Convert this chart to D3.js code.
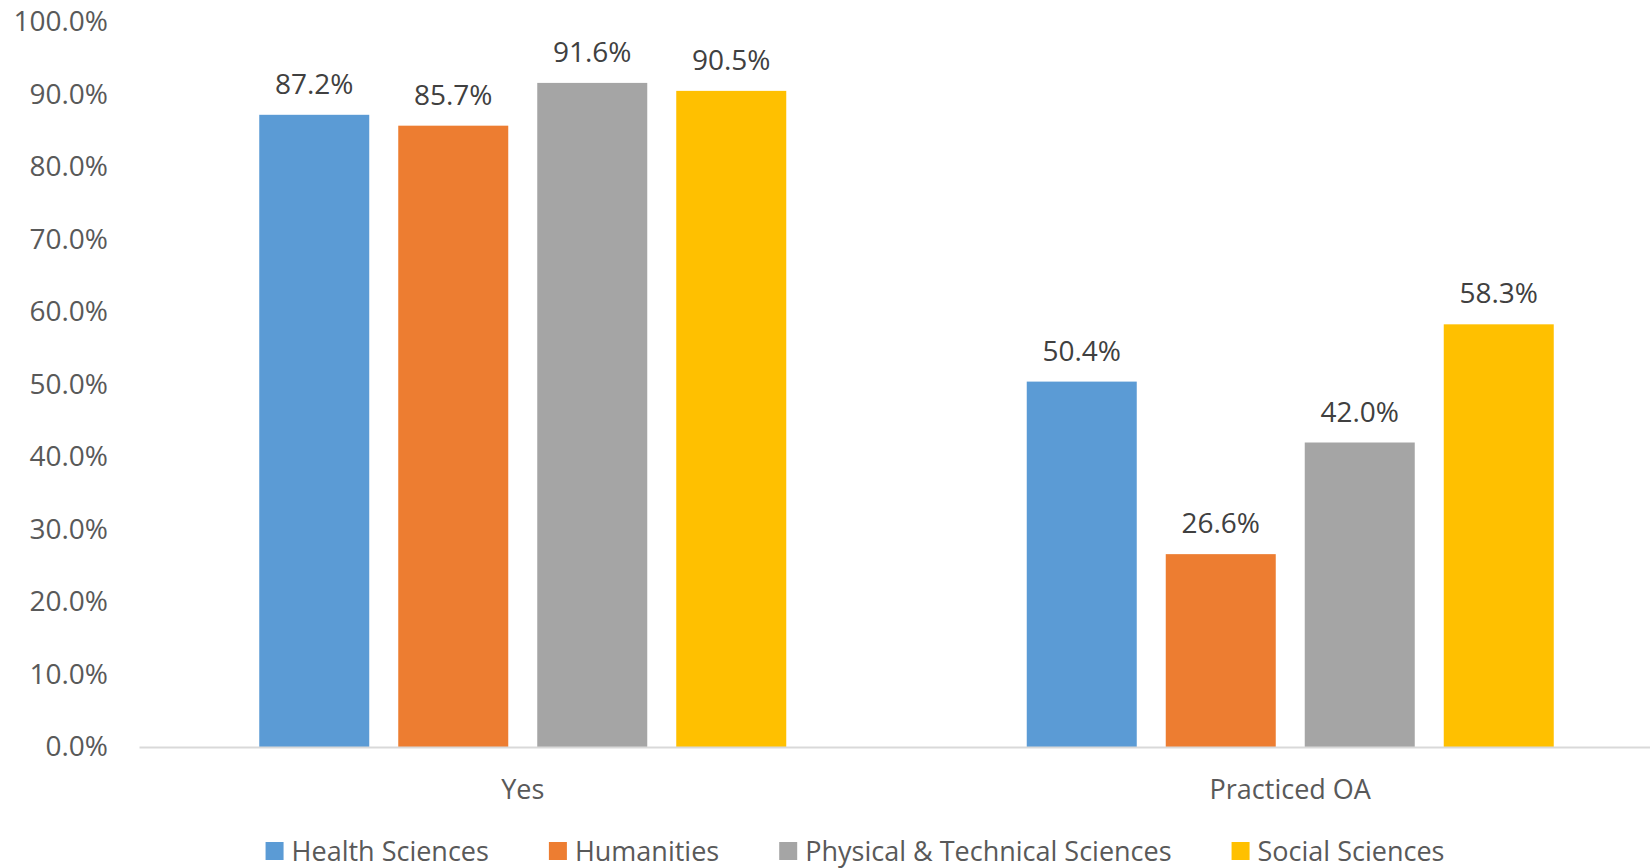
<!DOCTYPE html>
<html>
<head>
<meta charset="utf-8">
<script src="https://cdn.jsdelivr.net/npm/d3@7"></script>
<style>
  html, body { margin: 0; padding: 0; background: #fff; }
  svg { display: block; font-family: "Open Sans", "Noto Sans", sans-serif; }
</style>
</head>
<body>
<svg id="chart" width="1650" height="868"></svg>
<script>
const categories = ["Yes", "Practiced OA"];
const seriesNames = ["Health Sciences", "Humanities", "Physical & Technical Sciences", "Social Sciences"];
const seriesColors = ["#5B9BD5", "#ED7D31", "#A5A5A5", "#FFC000"];
const healthSciences = [0.872, 0.504];
const humanities = [0.857, 0.266];
const physicalTechnical = [0.916, 0.420];
const socialSciences = [0.905, 0.583];
const yTicks = [0, 0.1, 0.2, 0.3, 0.4, 0.5, 0.6, 0.7, 0.8, 0.9, 1.0];

(function () {
const seriesValues = [healthSciences, humanities, physicalTechnical, socialSciences];

const svg = d3.select("#chart");
const plotLeft = 139, plotRight = 1674, plotTop = 22, plotBottom = 747;

const x0 = d3.scaleBand().domain(categories).range([plotLeft, plotRight]).paddingInner(0).paddingOuter(0);
const groupWidth = 527;
const x1 = d3.scaleBand().domain(seriesNames).range([0, groupWidth]).paddingInner(29 / 139).paddingOuter(0);
const y = d3.scaleLinear().domain([0, 1]).range([plotBottom, plotTop]);
const fmt = d3.format(".1%");

// Y axis labels
const yAxis = d3.axisLeft(y).tickValues(yTicks).tickFormat(fmt).tickSize(0).tickPadding(0);
const yg = svg.append("g").attr("transform", `translate(108,0)`).call(yAxis);
yg.select(".domain").remove();
yg.selectAll("text")
  .attr("fill", "#595959")
  .style("font-size", "28px")
  .style("font-family", "'Open Sans', 'Noto Sans', sans-serif");

// Bars
const groups = svg.append("g").selectAll("g")
  .data(categories)
  .join("g")
  .attr("transform", d => `translate(${x0(d) + (x0.bandwidth() - groupWidth) / 2},0)`);

groups.selectAll("rect")
  .data((c, ci) => seriesNames.map((s, si) => ({ s, si, v: seriesValues[si][ci] })))
  .join("rect")
  .attr("x", d => x1(d.s))
  .attr("width", x1.bandwidth())
  .attr("y", d => y(d.v))
  .attr("height", d => y(0) - y(d.v))
  .attr("fill", d => seriesColors[d.si]);

groups.selectAll("text.val")
  .data((c, ci) => seriesNames.map((s, si) => ({ s, si, v: seriesValues[si][ci] })))
  .join("text")
  .attr("class", "val")
  .attr("x", d => x1(d.s) + x1.bandwidth() / 2)
  .attr("y", d => y(d.v) - 21)
  .attr("text-anchor", "middle")
  .attr("fill", "#404040")
  .style("font-size", "28px")
  .text(d => fmt(d.v));

// X axis
const xAxis = d3.axisBottom(x0).tickSize(0).tickPadding(0);
const xg = svg.append("g").attr("transform", `translate(0,${plotBottom})`).call(xAxis);
xg.select(".domain").attr("stroke", "#D9D9D9").attr("stroke-width", 2);
xg.selectAll("text")
  .attr("y", 52)
  .attr("dy", 0)
  .attr("fill", "#595959")
  .style("font-size", "27px")
  .style("font-family", "'Open Sans', 'Noto Sans', sans-serif");

// Legend
const legend = svg.append("g");
const items = legend.selectAll("g").data(seriesNames).join("g");
items.append("rect")
  .attr("width", 18).attr("height", 18)
  .attr("y", 842)
  .attr("fill", (d, i) => seriesColors[i]);
items.append("text")
  .attr("x", 26)
  .attr("y", 861)
  .attr("fill", "#595959")
  .style("font-size", "27px")
  .text(d => d);
const widths = [];
items.each(function () {
  widths.push(26 + this.querySelector("text").getComputedTextLength());
});
const gap = 60;
const total = d3.sum(widths) + gap * (widths.length - 1);
let xpos = 855 - total / 2;
items.each(function (d, i) {
  d3.select(this).attr("transform", `translate(${xpos},0)`);
  xpos += widths[i] + gap;
});
})();
</script>
</body>
</html>
